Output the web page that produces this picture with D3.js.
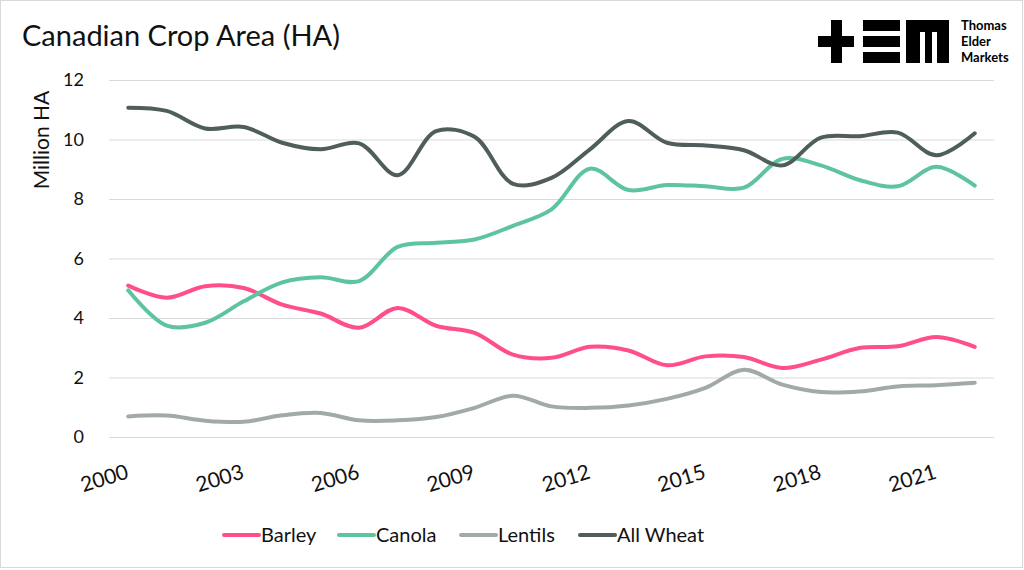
<!DOCTYPE html>
<html>
<head>
<meta charset="utf-8">
<script src="https://cdn.jsdelivr.net/npm/d3@7"></script>
<style>
  body { margin: 0; background: #fff; }
  svg { display: block; font-family: Lato, "Open Sans", sans-serif; }
</style>
</head>
<body>
<svg id="chart" width="1024" height="570"></svg>
<script>
// data (million hectares)
const years = d3.range(2000, 2023);
const tickYears = [2000, 2003, 2006, 2009, 2012, 2015, 2018, 2021];
const barley = [5.09, 4.68, 5.07, 5.01, 4.45, 4.15, 3.67, 4.34, 3.74, 3.50, 2.77, 2.66, 3.03, 2.91, 2.41, 2.71, 2.69, 2.32, 2.60, 2.99, 3.05, 3.36, 3.03];
const canola = [4.93, 3.74, 3.84, 4.56, 5.20, 5.37, 5.24, 6.39, 6.53, 6.64, 7.10, 7.65, 9.02, 8.30, 8.47, 8.43, 8.38, 9.35, 9.13, 8.64, 8.43, 9.08, 8.45];
const lentils = [0.69, 0.72, 0.55, 0.51, 0.73, 0.81, 0.56, 0.56, 0.67, 0.98, 1.39, 1.03, 0.98, 1.06, 1.28, 1.65, 2.26, 1.76, 1.51, 1.53, 1.70, 1.74, 1.82];
const wheat = [11.07, 10.96, 10.37, 10.42, 9.89, 9.67, 9.87, 8.80, 10.28, 10.09, 8.51, 8.71, 9.67, 10.62, 9.89, 9.80, 9.64, 9.13, 10.06, 10.11, 10.23, 9.47, 10.21];
const seriesNames = ["Barley", "Canola", "Lentils", "All Wheat"];
const seriesColors = ["#ff4f8b", "#5ec4a0", "#a2a9a9", "#4f5e5d"];
const yTicks = [0, 2, 4, 6, 8, 10, 12];

const series = [barley, canola, lentils, wheat].map((vals, i) => ({
      name: seriesNames[i],
      color: seriesColors[i],
      values: vals.map((v, j) => ({ year: years[j], value: v }))
}));

const svg = d3.select("#chart");
const margin = { top: 80, right: 30, bottom: 133, left: 109 };
const width = 1024, height = 570;
const innerWidth = width - margin.left - margin.right;
const innerHeight = height - margin.top - margin.bottom;

// outer frame
svg.append("rect")
      .attr("x", 0.5).attr("y", 0.5)
      .attr("width", 1022).attr("height", 567)
      .attr("fill", "#fff")
      .attr("stroke", "#d9d9d9");

// title
svg.append("text")
      .text("Canadian Crop Area (HA)")
      .attr("x", 22).attr("y", 46)
      .attr("font-size", "29px")
      .attr("fill", "#111");

// logo
const logo = svg.append("g").attr("transform", "translate(818,20)").attr("fill", "#000");
logo.append("rect").attr("x", 0).attr("y", 16).attr("width", 36).attr("height", 11);
logo.append("rect").attr("x", 13).attr("y", 0).attr("width", 11).attr("height", 43);
[0, 16, 32].forEach(y => logo.append("rect").attr("x", 45).attr("y", y).attr("width", 37).attr("height", 11));
logo.append("rect").attr("x", 88).attr("y", 0).attr("width", 43).attr("height", 12);
logo.append("rect").attr("x", 88).attr("y", 0).attr("width", 14).attr("height", 43);
logo.append("rect").attr("x", 107).attr("y", 0).attr("width", 7).attr("height", 43);
logo.append("rect").attr("x", 119).attr("y", 0).attr("width", 12).attr("height", 43);
["Thomas", "Elder", "Markets"].forEach((t, i) => {
      logo.append("text").text(t)
            .attr("x", 143).attr("y", 10 + i * 16)
            .attr("font-size", "13px")
            .attr("font-weight", "bold");
});

// scales
const xScale = d3.scalePoint()
      .domain(years)
      .range([0, innerWidth])
      .padding(0.5);

const yScale = d3.scaleLinear()
      .domain([0, 12])
      .range([innerHeight, 0]);

const g = svg.append("g")
      .attr("transform", `translate(${margin.left},${margin.top})`);

// gridlines + y labels
const yAxis = d3.axisLeft(yScale)
      .tickValues(yTicks)
      .tickSize(-innerWidth)
      .tickPadding(25);
const yAxisG = g.append("g").call(yAxis);
yAxisG.select(".domain").remove();
yAxisG.selectAll(".tick line").attr("stroke", "#d9d9d9").attr("stroke-width", 1.2);
yAxisG.selectAll(".tick text")
      .attr("font-size", "18px")
      .attr("fill", "#111")
      .attr("font-family", "Lato, sans-serif");

svg.append("text")
      .text("Million HA")
      .attr("transform", "translate(49,140) rotate(-90)")
      .attr("text-anchor", "middle")
      .attr("font-size", "21px")
      .attr("fill", "#111");

// x labels
const xAxis = d3.axisBottom(xScale)
      .tickValues(tickYears)
      .tickSize(0)
      .tickPadding(0);
const xAxisG = g.append("g").call(xAxis)
      .attr("transform", `translate(0,${innerHeight})`);
xAxisG.select(".domain").remove();
xAxisG.selectAll(".tick text")
      .attr("font-size", "21px")
      .attr("fill", "#111")
      .attr("font-family", "Lato, sans-serif")
      .attr("text-anchor", "end")
      .attr("dy", 0)
      .attr("transform", "translate(1,41) rotate(-17)");

// lines
const line = d3.line()
      .x(d => xScale(d.year))
      .y(d => yScale(d.value))
      .curve(d3.curveCatmullRom.alpha(0.5));

g.selectAll(".series")
      .data(series).enter()
      .append("path")
      .attr("class", "series")
      .attr("fill", "none")
      .attr("stroke", d => d.color)
      .attr("stroke-width", 4)
      .attr("stroke-linecap", "round")
      .attr("stroke-linejoin", "round")
      .attr("d", d => line(d.values));

// legend
const legendX = [224, 339, 461, 580];
const legend = svg.append("g");
series.forEach((s, i) => {
      legend.append("line")
            .attr("x1", legendX[i]).attr("x2", legendX[i] + 35)
            .attr("y1", 535).attr("y2", 535)
            .attr("stroke", s.color)
            .attr("stroke-width", 4)
            .attr("stroke-linecap", "round");
      legend.append("text")
            .text(s.name)
            .attr("x", legendX[i] + 37).attr("y", 542)
            .attr("font-size", "20px")
            .attr("fill", "#111");
});
</script>
</body>
</html>
